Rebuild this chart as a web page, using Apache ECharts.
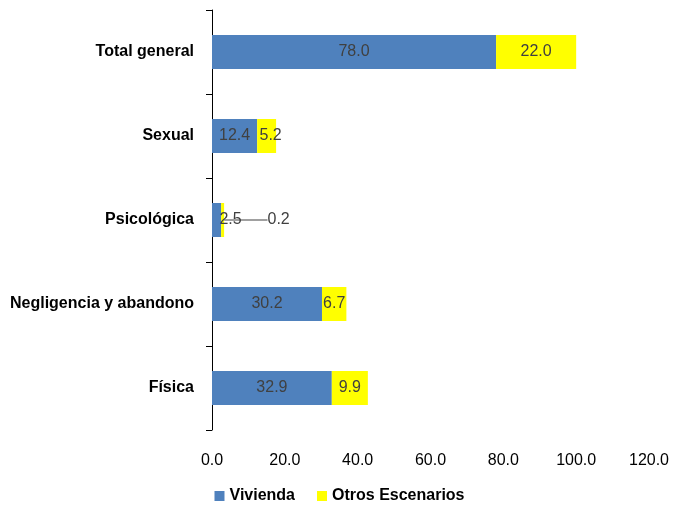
<!DOCTYPE html>
<html><head><meta charset="utf-8">
<script src="https://cdn.jsdelivr.net/npm/echarts@6/dist/echarts.min.js"></script>
<style>html,body{margin:0;padding:0;background:#fff}#c{width:679px;height:511px}</style>
</head><body><div id="c"></div>
<script>
const categories = ['Física', 'Negligencia y abandono', 'Psicológica', 'Sexual', 'Total general'];
const vivienda = [32.9, 30.2, 2.5, 12.4, 78.0];
const otros = [9.9, 6.7, 0.2, 5.2, 22.0];
const xTicks = [0, 20, 40, 60, 80, 100, 120];

const FONT = '"Liberation Sans", Arial, sans-serif';
const chart = echarts.init(document.getElementById('c'));
const lbl = {show: true, position: 'inside', color: '#404040', fontSize: 16, fontFamily: FONT,
  formatter: p => p.value.toFixed(1)};

chart.setOption({
  animation: false,
  grid: {left: 212, right: 30, top: 10, bottom: 81, containLabel: false},
  xAxis: {
    type: 'value', min: xTicks[0], max: xTicks[xTicks.length - 1], interval: 20,
    axisLine: {show: false}, axisTick: {show: false}, splitLine: {show: false},
    axisLabel: {formatter: v => v.toFixed(1), color: '#000', fontSize: 16, fontFamily: FONT, margin: 23}
  },
  yAxis: {
    type: 'category', data: categories,
    axisLine: {show: true, lineStyle: {color: '#000', width: 1}},
    axisTick: {show: true, length: 6, lineStyle: {color: '#000'}},
    axisLabel: {color: '#000', fontWeight: 'bold', fontSize: 16, fontFamily: FONT, margin: 18}
  },
  legend: {
    bottom: 2, left: 'center', itemWidth: 10, itemHeight: 10, itemGap: 22, icon: 'rect',
    textStyle: {fontWeight: 'bold', fontSize: 16, fontFamily: FONT, color: '#000'},
    data: ['Vivienda', 'Otros Escenarios']
  },
  series: [
    {name: 'Vivienda', type: 'bar', stack: 's', barWidth: 34, data: vivienda,
      itemStyle: {color: '#4F81BD'},
      label: lbl,
      labelLayout: p => p.dataIndex === 2 ? {dx: 14} : {}},
    {name: 'Otros Escenarios', type: 'bar', stack: 's', data: otros, barMinHeight: 3,
      itemStyle: {color: '#FFFF00'},
      label: lbl,
      labelLine: {show: true, lineStyle: {color: '#808080', width: 1.5}},
      labelLayout: p => p.dataIndex === 2 ? {dx: 56} : (p.dataIndex === 3 ? {dx: 4} : {})}
  ]
});
</script></body></html>
